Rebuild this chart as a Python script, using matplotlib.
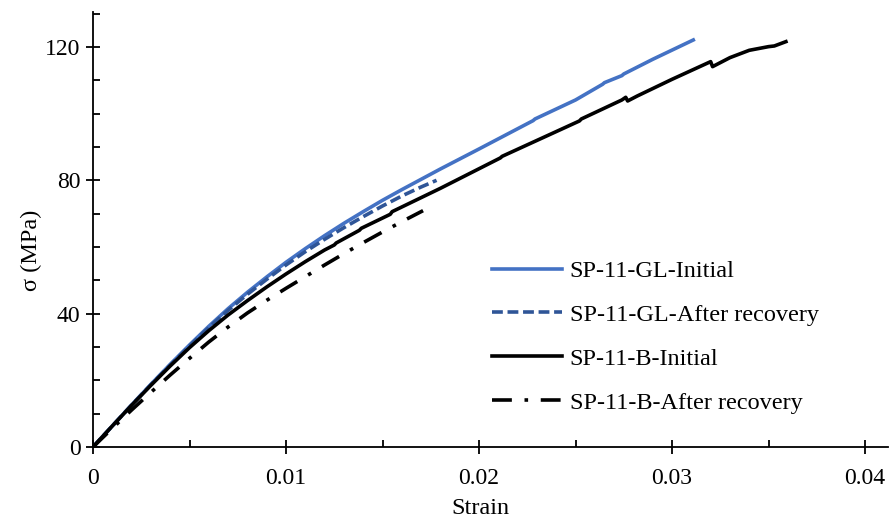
import numpy as np
import matplotlib.pyplot as plt
from matplotlib.ticker import MultipleLocator

plt.rcParams['font.family'] = ['Liberation Serif', 'DejaVu Serif']

# SP-11-GL initial
gl_init_x = [0, 0.001, 0.002, 0.003, 0.004, 0.005, 0.006, 0.007, 0.008, 0.009, 0.010,
             0.011, 0.012, 0.013, 0.014, 0.015, 0.016, 0.017, 0.018, 0.019, 0.020,
             0.0228, 0.0229, 0.0250, 0.0264, 0.0265, 0.0274, 0.0275, 0.0290, 0.0311]
gl_init_y = [0, 6.3, 12.6, 18.8, 24.8, 30.6, 36.2, 41.5, 46.4, 51.0, 55.4,
             59.5, 63.4, 67.1, 70.6, 74.0, 77.2, 80.3, 83.4, 86.4, 89.4,
             97.9, 98.4, 104.1, 108.8, 109.3, 111.4, 111.9, 116.3, 122.1]

# SP-11-GL after recovery
gl_rec_x = [0, 0.001, 0.002, 0.003, 0.004, 0.005, 0.006, 0.007, 0.008, 0.009, 0.010,
            0.011, 0.012, 0.013, 0.014, 0.015, 0.016, 0.017, 0.0178]
gl_rec_y = [0, 6.3, 12.6, 18.7, 24.6, 30.3, 35.8, 41.0, 45.8, 50.3, 54.6,
            58.6, 62.3, 65.8, 69.1, 72.3, 75.3, 78.0, 80.0]

# SP-11-B initial
b_init_x = [0, 0.001, 0.002, 0.003, 0.004, 0.005, 0.006, 0.007, 0.008, 0.009, 0.010,
            0.011, 0.012, 0.0125, 0.0126, 0.0138, 0.0139, 0.0154, 0.0155, 0.0180,
            0.0211, 0.0212, 0.0252, 0.0253, 0.0274, 0.0276, 0.0277, 0.0282, 0.0300,
            0.0320, 0.0321, 0.0330, 0.0340, 0.0350, 0.0353, 0.0359]
b_init_y = [0, 6.3, 12.5, 18.5, 24.3, 29.8, 34.9, 39.6, 43.9, 48.0, 51.9,
            55.6, 59.1, 60.6, 61.2, 65.0, 65.6, 69.8, 70.6, 77.6,
            86.7, 87.2, 97.8, 98.4, 104.1, 104.9, 103.8, 105.3, 110.3,
            115.6, 114.1, 116.8, 119.0, 120.1, 120.3, 121.6]

# SP-11-B after recovery
b_rec_x = [0, 0.001, 0.002, 0.003, 0.004, 0.005, 0.006, 0.007, 0.008, 0.009, 0.010,
           0.011, 0.012, 0.013, 0.014, 0.015, 0.016, 0.0171]
b_rec_y = [0, 5.6, 11.1, 16.4, 21.6, 26.6, 31.5, 36.0, 40.2, 44.0, 47.6,
           51.1, 54.6, 58.0, 61.3, 64.5, 67.6, 70.9]

fig = plt.figure(figsize=(8.9, 5.25), dpi=100)
ax = fig.add_axes([0.1045, 0.1486, 0.8935, 0.8286])

ax.plot(gl_init_x, gl_init_y, color='#4472C4', lw=2.6, label='SP-11-GL-Initial')
ax.plot(gl_rec_x, gl_rec_y, color='#2F5597', lw=2.6, dashes=(3, 1.3), label='SP-11-GL-After recovery')
ax.plot(b_init_x, b_init_y, color='black', lw=2.6, label='SP-11-B-Initial')
ax.plot(b_rec_x, b_rec_y, color='black', lw=2.6, dashes=(5.5, 3.5, 1, 3.5), label='SP-11-B-After recovery')

ax.set_xlim(0, 0.0412)
ax.set_ylim(0, 130.5)
ax.xaxis.set_minor_locator(MultipleLocator(0.005))
ax.yaxis.set_major_locator(MultipleLocator(40))
ax.yaxis.set_minor_locator(MultipleLocator(10))
ax.set_xticks([0, 0.01, 0.02, 0.03, 0.04])
ax.set_xticklabels(['0', '0.01', '0.02', '0.03', '0.04'])

ax.tick_params(which='major', direction='inout', length=10, width=1.3, labelsize=17)
ax.tick_params(axis='x', which='major', pad=10)
ax.tick_params(axis='y', which='major', pad=4)
ax.tick_params(which='minor', direction='in', length=5, width=1.3)

for s in ['top', 'right']:
    ax.spines[s].set_visible(False)
for s in ['left', 'bottom']:
    ax.spines[s].set_linewidth(1.3)

ax.set_xlabel('Strain', fontsize=17.5)
ax.set_ylabel('σ (MPa)', fontsize=17.5)
ax.xaxis.set_label_coords(0.487, -0.118)
ax.yaxis.set_label_coords(-0.064, 0.453)

ax.legend(loc='upper left', bbox_to_anchor=(0.474, 0.48), frameon=False, fontsize=17.5,
          handlelength=2.9, labelspacing=0.9, handletextpad=0.3)

fig.savefig('out.png', dpi=100)
